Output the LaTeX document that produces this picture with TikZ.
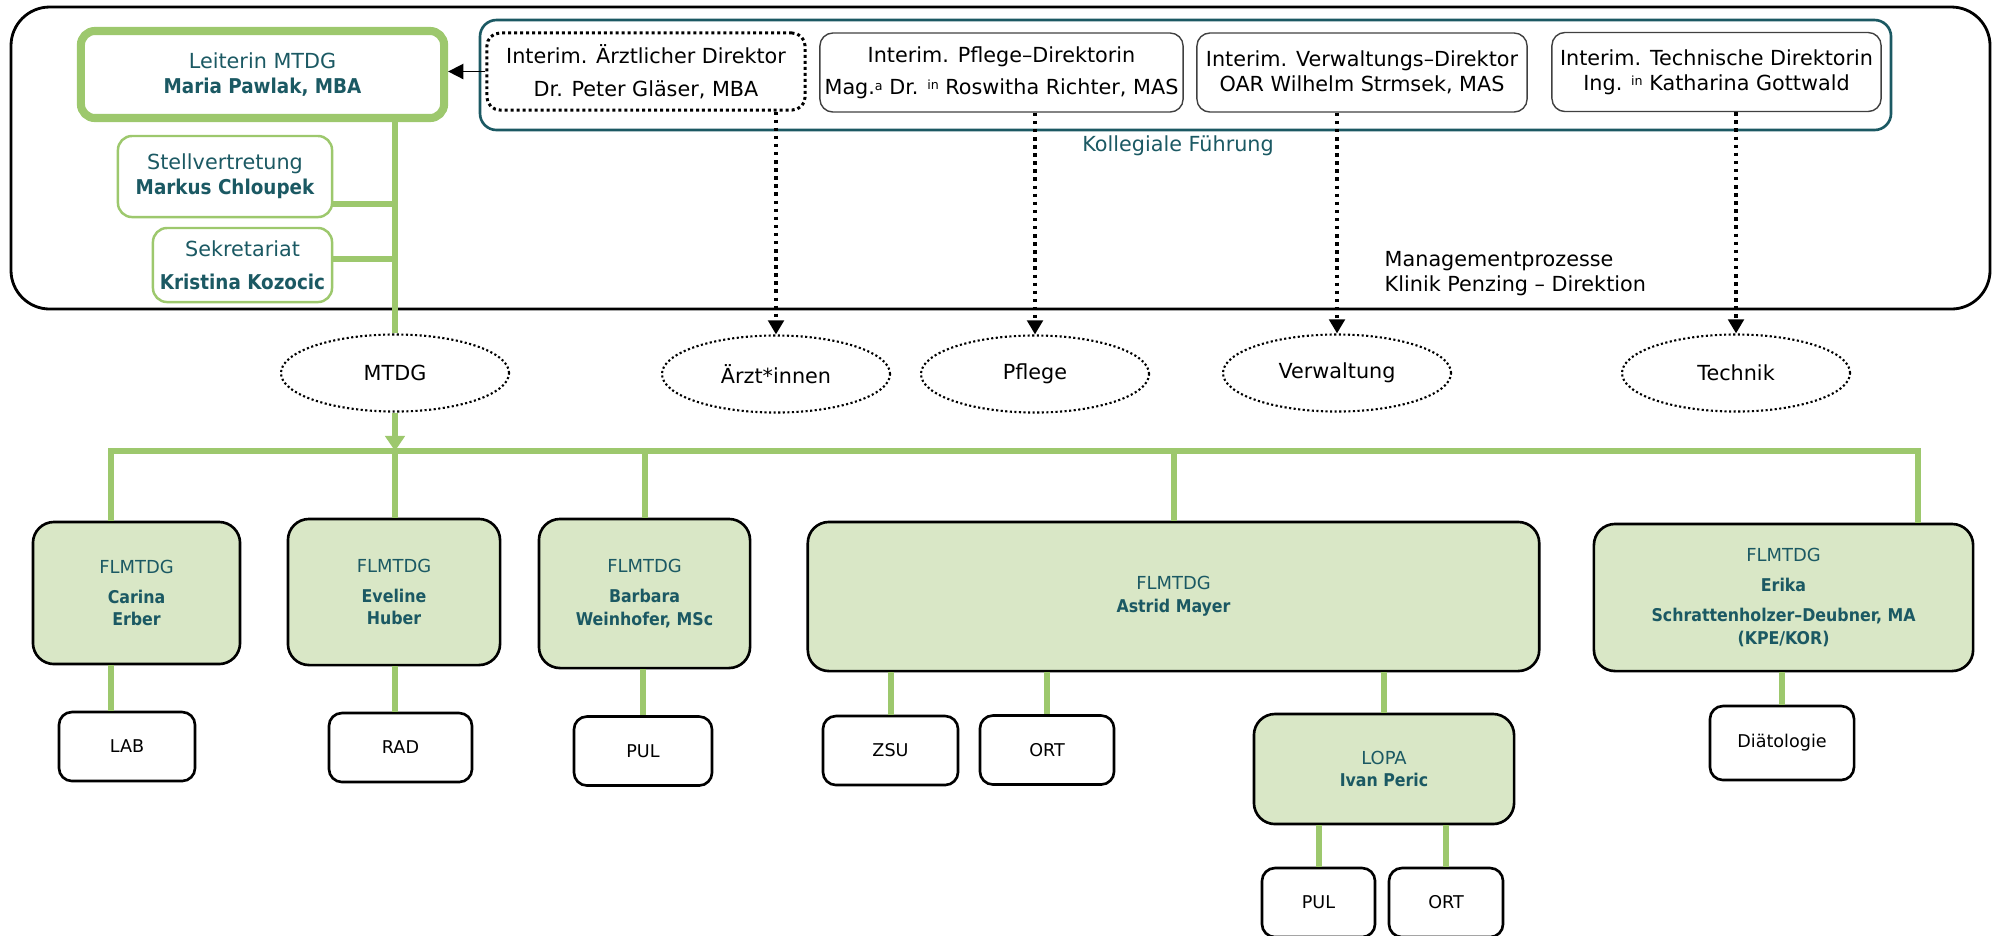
\documentclass[tikz,border=0pt]{standalone}
\usepackage{fontspec}
\setmainfont{DejaVu Sans}
\newfontfamily\condfont{DejaVu Sans Condensed}
\usetikzlibrary{arrows.meta, shapes.geometric}

\definecolor{mtdggreen}{HTML}{9DC86D}
\definecolor{mtdgfill}{HTML}{D9E7C6}
\definecolor{mtdgteal}{HTML}{1B5963}
\newcommand{\topsize}{\fontsize{5.9}{7.1}\selectfont}
\newcommand{\botsize}{\fontsize{5.1}{6.5}\selectfont}
\newcommand{\deptsize}{\fontsize{5}{6}\selectfont}
\newcommand{\topname}[1]{{\condfont\fontsize{5.8}{7.1}\selectfont\bfseries #1}}
\newcommand{\botname}[1]{{\condfont\fontsize{5.0}{6.5}\selectfont\bfseries #1}}

\begin{document}
\begin{tikzpicture}[x=0.01cm, y=-0.01cm,
    lead/.style = {draw=mtdggreen, fill=white, rounded corners=4pt, align=center,
                   text=mtdgteal, font=\topsize, inner sep=0pt},
    direktor/.style = {draw=black!75, line width=0.4pt, rounded corners=3.7pt, align=center,
                   font=\topsize, inner sep=0pt, minimum height=0.79cm},
    grp/.style = {ellipse, draw, line width=0.6pt, dash pattern=on 0.6pt off 0.7pt,
                   minimum width=2.28cm, minimum height=0.77cm, font=\topsize},
    unit/.style = {draw, line width=0.75pt, fill=mtdgfill, rounded corners=6pt, align=center,
                   text=mtdgteal, font=\botsize, inner sep=0pt},
    dept/.style = {draw, line width=0.75pt, fill=white, rounded corners=3.7pt,
                   font=\deptsize, inner sep=0pt, minimum height=0.69cm},
    tree/.style = {draw=mtdggreen, line width=1.7pt},
    duty/.style = {line width=1pt, dash pattern=on 1pt off 1.3pt,
                   -{Triangle[length=4pt, width=4.4pt]}}
  ]
  \useasboundingbox (0,0) rectangle (1995,935);

  % Direktion
  \draw[line width=0.8pt, rounded corners=11pt] (11,7) rectangle (1990,309);
  \draw[mtdgteal, line width=0.75pt, rounded corners=4.7pt] (480,20) rectangle (1891,130);
  \node[text=mtdgteal, font=\topsize] (kollegial) at (1178,146) {Kollegiale Führung};
  \node[anchor=west, align=left, font=\topsize, inner sep=0pt] (prozess) at (1384,274)
    {Managementprozesse\\Klinik Penzing – Direktion};

  \node[direktor, draw=black, line width=0.85pt, dash pattern=on 0.85pt off 0.85pt,
        minimum width=3.18cm, minimum height=0.77cm] (aerztl) at (646,71.5)
    {Interim. Ärztlicher Direktor\\[2.3pt]Dr. Peter Gläser, MBA};
  \node[direktor, minimum width=3.63cm] (pflegedir) at (1001.5,72.5)
    {Interim. Pflege–Direktorin\\[2.1pt]Mag.{\fontsize{3.6}{4}\selectfont\raisebox{1.2pt}{a}} Dr. {\fontsize{3.6}{4}\selectfont\raisebox{1.4pt}{in}} Roswitha Richter, MAS};
  \node[direktor, minimum width=3.30cm] (verwdir) at (1362,72.5)
    {Interim. Verwaltungs–Direktor\\OAR Wilhelm Strmsek, MAS};
  \node[direktor, minimum width=3.29cm] (technikdir) at (1716.5,72)
    {Interim. Technische Direktorin\\Ing. {\fontsize{3.6}{4}\selectfont\raisebox{1.4pt}{in}} Katharina Gottwald};

  \node[lead, line width=2.3pt, minimum width=3.63cm, minimum height=0.87cm] (leiterin) at (262.5,74.5)
    {Leiterin MTDG\\\topname{Maria Pawlak, MBA}};
  \node[lead, line width=0.7pt, minimum width=2.14cm, minimum height=0.81cm] (stellv) at (225,176.5)
    {Stellvertretung\\\topname{Markus Chloupek}};
  \node[lead, line width=0.7pt, minimum width=1.79cm, minimum height=0.74cm] (sekr) at (242.5,265)
    {Sekretariat\\[2.3pt]\topname{Kristina Kozocic}};

  % Berufsgruppen
  \node[grp] (mtdg) at (395,373) {MTDG};
  \node[grp] (aerzte) at (776,374) {Ärzt*innen};
  \node[grp] (pflege) at (1035,374) {Pflege};
  \node[grp] (verwaltung) at (1337,373) {Verwaltung};
  \node[grp] (technik) at (1736,373) {Technik};

  \draw[-{Triangle[length=4.3pt, width=4.3pt]}, line width=0.5pt] (aerztl.west) -- (aerztl.west -| leiterin.east);
  \draw[duty] (aerztl.south -| aerzte) -- (aerzte.north);
  \draw[duty] (pflegedir.south -| pflege) -- (pflege.north);
  \draw[duty] (verwdir.south -| verwaltung) -- (verwaltung.north);
  \draw[duty] (technikdir.south -| technik) -- (technik.north);

  \draw[tree, line width=1.5pt] (leiterin.south -| mtdg) -- (mtdg.north);
  \draw[tree] ([yshift=4pt]stellv.south east) -- ([yshift=4pt]stellv.south east -| mtdg);
  \draw[tree] ([yshift=1.7pt]sekr.east) -- ([yshift=1.7pt]sekr.east -| mtdg);

  % Fachbereiche
  \node[unit, minimum width=2.07cm, minimum height=1.42cm] (carina) at (136.5,593)
    {FLMTDG\\[2pt]\botname{Carina}\\\botname{Erber}};
  \node[unit, minimum width=2.12cm, minimum height=1.46cm] (eveline) at (394,592)
    {FLMTDG\\[2pt]\botname{Eveline}\\\botname{Huber}};
  \node[unit, minimum width=2.11cm, minimum height=1.49cm] (barbara) at (644.5,593.5)
    {FLMTDG\\[2pt]\botname{Barbara}\\\botname{Weinhofer, MSc}};
  \node[unit, minimum width=7.31cm, minimum height=1.49cm] (astrid) at (1173.5,596.5)
    {FLMTDG\\\botname{Astrid Mayer}};
  \node[unit, minimum width=3.79cm, minimum height=1.47cm] (erika) at (1783.5,597.5)
    {FLMTDG\\[2pt]\botname{Erika}\\[2pt]\botname{Schrattenholzer–Deubner, MA}\\\botname{(KPE/KOR)}};
  \node[unit, minimum width=2.60cm, minimum height=1.10cm] (lopa) at (1384,769)
    {LOPA\\\botname{Ivan Peric}};

  \node[dept, minimum width=1.36cm] (lab) at (127,746.5) {LAB};
  \node[dept, minimum width=1.43cm] (rad) at (400.5,747.5) {RAD};
  \node[dept, minimum width=1.38cm] (pul) at (643,751) {PUL};
  \node[dept, minimum width=1.35cm] (zsu) at (890.5,750.5) {ZSU};
  \node[dept, minimum width=1.34cm] (ort) at (1047,750) {ORT};
  \node[dept, minimum width=1.13cm] (pulb) at (1318.5,902.5) {PUL};
  \node[dept, minimum width=1.14cm] (ortb) at (1446,902.5) {ORT};
  \node[dept, minimum width=1.44cm, minimum height=0.74cm] (diaet) at (1782,743) {Diätologie};

  \coordinate (barL) at (111,451);
  \coordinate (barR) at (1918,451);
  \draw[tree, -{Triangle[length=4.3pt, width=5.5pt]}] (mtdg.south) -- (mtdg.south |- barL);
  \draw[tree, line width=1.8pt] (carina.north -| barL) -- (barL) -- (barR) -- (erika.north -| barR);
  \draw[tree] (mtdg.south |- barL) -- (eveline.north -| mtdg);
  \draw[tree] (barbara.north |- barL) -- (barbara.north);
  \draw[tree] (astrid.north |- barL) -- (astrid.north);

  \draw[tree] (carina.south -| barL) -- (lab.north -| barL);
  \draw[tree] (eveline.south -| mtdg) -- (rad.north -| mtdg);
  \draw[tree] (barbara.south -| pul) -- (pul.north);
  \draw[tree] (astrid.south -| zsu) -- (zsu.north);
  \draw[tree] (astrid.south -| ort) -- (ort.north);
  \draw[tree] (astrid.south -| lopa) -- (lopa.north);
  \draw[tree] (lopa.south -| pulb) -- (pulb.north);
  \draw[tree] (lopa.south -| ortb) -- (ortb.north);
  \draw[tree] (erika.south -| diaet) -- (diaet.north);
\end{tikzpicture}
\end{document}
